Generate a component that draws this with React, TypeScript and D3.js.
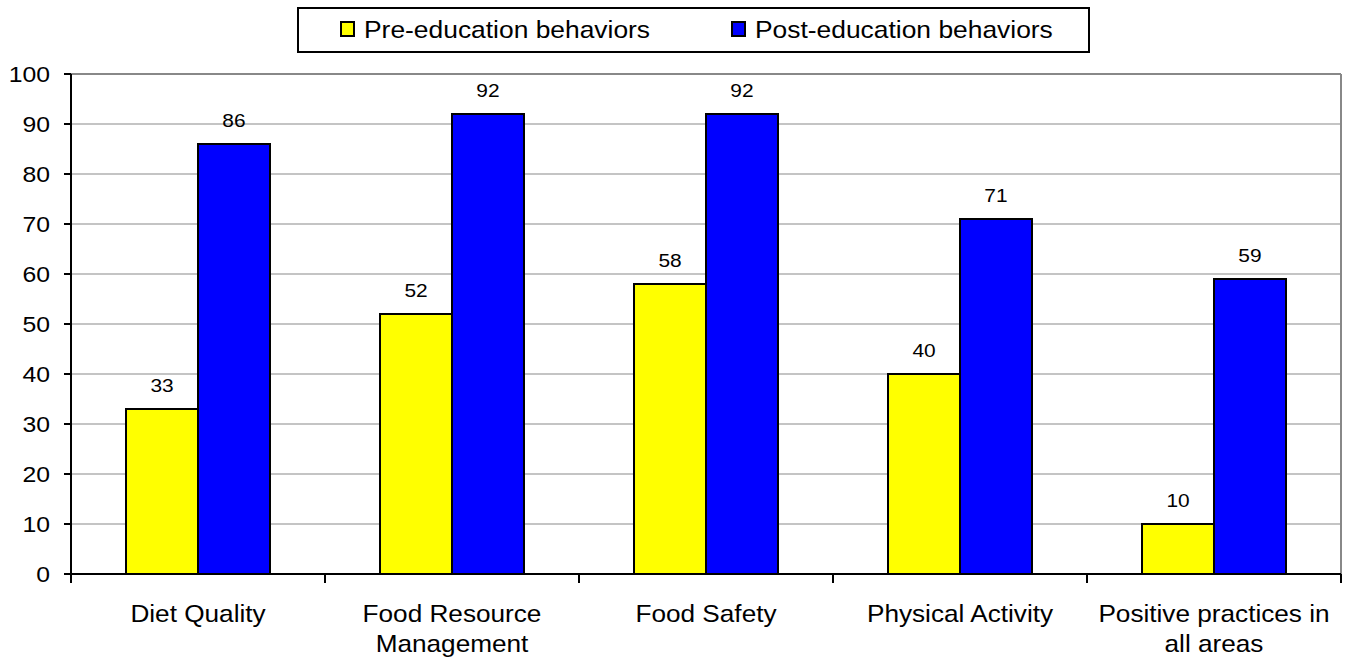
import * as d3 from 'd3';

const categories = ['Diet Quality', 'Food Resource Management', 'Food Safety', 'Physical Activity', 'Positive practices in all areas'];
const categoryLines = [['Diet Quality'], ['Food Resource', 'Management'], ['Food Safety'], ['Physical Activity'], ['Positive practices in', 'all areas']];
const preValues = [33, 52, 58, 40, 10];
const postValues = [86, 92, 92, 71, 59];
const seriesNames = ['Pre-education behaviors', 'Post-education behaviors'];
const seriesColors = ['#ffff00', '#0000ff'];
const yTicks = [0, 10, 20, 30, 40, 50, 60, 70, 80, 90, 100];

const W = 1348, H = 660;
const left = 71, right = 1341, top = 74, bottom = 574;
const SX = 1.1; // text is a bit wide in the source
const FONT = "'Liberation Sans', Arial, sans-serif";

const T = ({ x, y, size, anchor = 'middle', children }: any) => (
    <text transform={`translate(${x},${y}) scale(${SX},1)`} fontSize={size} textAnchor={anchor} fontFamily={FONT} fill="#000">
        {children}
    </text>
);

export default function App() {
    const x = d3.scaleBand<string>().domain(categories).range([left, right]).paddingInner(0).paddingOuter(0);
    const inner = d3.scaleBand<string>().domain(['pre', 'post']).range([0, x.bandwidth()]).paddingInner(0).paddingOuter(0.764);
    const y = d3.scaleLinear().domain([0, 100]).range([bottom, top]);
    const series = [preValues, postValues];
    const keys = ['pre', 'post'];

    return (
        <svg width={W} height={H} style={{ position: 'absolute', left: 0, top: 0, background: '#fff' }}>
            {/* gridlines */}
            {yTicks.filter((t) => t > 0 && t < 100).map((t) => (
                <line key={t} x1={left} x2={right} y1={y(t)} y2={y(t)} stroke="#c4c4c4" strokeWidth={2} />
            ))}
            {/* plot border */}
            <line x1={left} x2={right} y1={y(100)} y2={y(100)} stroke="#888" strokeWidth={2} />
            <line x1={right} x2={right} y1={y(100)} y2={bottom} stroke="#888" strokeWidth={2} />

            {/* bars */}
            {categories.map((c, i) => (
                <g key={c} transform={`translate(${x(c)},0)`}>
                    {series.map((s, j) => (
                        <rect key={j} x={inner(keys[j])} y={y(s[i])} width={inner.bandwidth()} height={y(0) - y(s[i])}
                            fill={seriesColors[j]} stroke="#000" strokeWidth={2} />
                    ))}
                    {series.map((s, j) => (
                        <T key={'l' + j} x={(inner(keys[j]) as number) + inner.bandwidth() / 2} y={y(s[i]) - 17} size={19}>
                            {s[i]}
                        </T>
                    ))}
                </g>
            ))}

            {/* axes */}
            <line x1={left} x2={left} y1={top} y2={bottom + 9} stroke="#000" strokeWidth={2} />
            <line x1={left} x2={right} y1={bottom} y2={bottom} stroke="#000" strokeWidth={2} />
            {yTicks.map((t) => (
                <g key={t}>
                    <line x1={left - 7} x2={left} y1={y(t)} y2={y(t)} stroke="#000" strokeWidth={2} />
                    <T x={50} y={y(t) + 8} size={22.5} anchor="end">{t}</T>
                </g>
            ))}
            {categories.map((c) => (
                <line key={c} x1={(x(c) as number) + x.bandwidth()} x2={(x(c) as number) + x.bandwidth()} y1={bottom} y2={bottom + 9} stroke="#000" strokeWidth={2} />
            ))}
            {categories.map((c, i) => (
                <g key={'c' + c}>
                    {categoryLines[i].map((ln, k) => (
                        <T key={k} x={(x(c) as number) + x.bandwidth() / 2} y={622 + k * 30} size={23.8}>{ln}</T>
                    ))}
                </g>
            ))}

            {/* legend */}
            <rect x={298} y={8} width={791} height={44} fill="#fff" stroke="#000" strokeWidth={2} />
            {seriesNames.map((n, j) => {
                const sx = j === 0 ? 341 : 732;
                return (
                    <g key={n}>
                        <rect x={sx} y={22} width={13} height={14} fill={seriesColors[j]} stroke="#000" strokeWidth={2} />
                        <T x={sx + 23} y={38} size={24} anchor="start">{n}</T>
                    </g>
                );
            })}
        </svg>
    );
}
